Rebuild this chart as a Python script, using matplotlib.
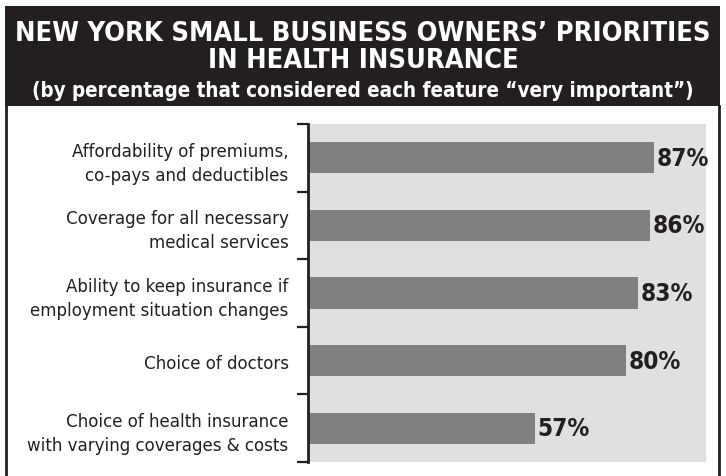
import matplotlib.pyplot as plt
from matplotlib.patches import Rectangle
from matplotlib.lines import Line2D

features = [
    'Affordability of premiums,\nco-pays and deductibles',
    'Coverage for all necessary\nmedical services',
    'Ability to keep insurance if\nemployment situation changes',
    'Choice of doctors',
    'Choice of health insurance\nwith varying coverages & costs',
]
pct_very_important = [87, 86, 83, 80, 57]

W, H = 726, 477
plt.rcParams['font.family'] = ['DejaVu Sans']
plt.rcParams['font.stretch'] = 'condensed'

fig = plt.figure(figsize=(W / 100, H / 100), dpi=100)
fig.patch.set_facecolor('white')

def px(x, y):
    # pixel coords from top-left -> figure fraction
    return x / W, 1 - y / H

# dark header band
x0, y0 = px(5, 107)
fig.patches.append(Rectangle((x0, y0), 715 / W, 100 / H, transform=fig.transFigure,
                             facecolor='#231f20', edgecolor='none', zorder=0))
# side rules below the header
for xp in (5.5, 719):
    fig.add_artist(Line2D([xp / W, xp / W], [0, 1 - 107 / H], transform=fig.transFigure,
                          color='#231f20', lw=2))

fig.text(*px(363, 34), "NEW YORK SMALL BUSINESS OWNERS’ PRIORITIES", color='white',
         fontsize=19.5, fontweight='bold', ha='center', va='center')
fig.text(*px(363, 61), "IN HEALTH INSURANCE", color='white',
         fontsize=19.5, fontweight='bold', ha='center', va='center')
fig.text(*px(363, 91), "(by percentage that considered each feature “very important”)",
         color='white', fontsize=14.8, fontweight='bold', ha='center', va='center')

l, t = px(308, 125)
r, b = px(706, 463)
ax = fig.add_axes([l, b, r - l, t - b])
ax.set_facecolor('#e0e0e2')

ypos = list(range(len(features)))
ax.barh(ypos, pct_very_important, height=0.46, color='#808083', zorder=2)
for y, v in zip(ypos, pct_very_important):
    ax.text(v + 0.6, y, f'{v}%', ha='left', va='center', fontsize=17.5,
            fontweight='bold', color='#231f20')

ax.set_xlim(0, 100)
ax.set_ylim(len(features) - 0.5, -0.5)
ax.set_xticks([])
ax.set_yticks(ypos)
ax.set_yticklabels(features, fontsize=13.3, color='#231f20', linespacing=1.42)
ax.tick_params(axis='y', which='major', length=0, pad=14)
ax.set_yticks([i - 0.5 for i in range(len(features) + 1)], minor=True)
ax.tick_params(axis='y', which='minor', length=8, width=1.6, color='#231f20')

for s in ('top', 'right', 'bottom'):
    ax.spines[s].set_visible(False)
ax.spines['left'].set_linewidth(2)
ax.spines['left'].set_color('#231f20')

fig.savefig('out.png', dpi=100)
